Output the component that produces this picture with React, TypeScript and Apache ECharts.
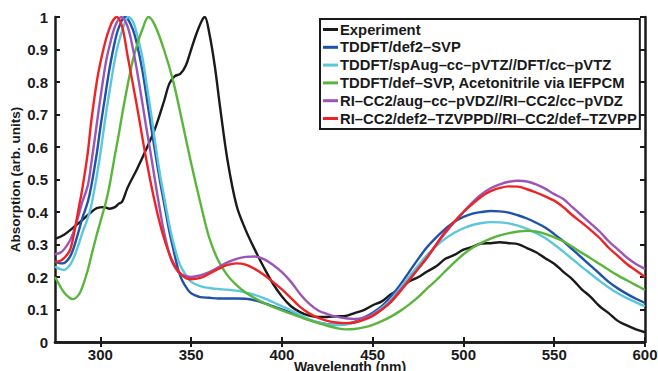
import React, { useEffect, useRef } from "react";
import * as echarts from "echarts";

const seriesNames = [
  "Experiment",
  "TDDFT/def2–SVP",
  "TDDFT/spAug–cc–pVTZ//DFT/cc–pVTZ",
  "TDDFT/def–SVP, Acetonitrile via IEFPCM",
  "RI–CC2/aug–cc–pVDZ//RI–CC2/cc–pVDZ",
  "RI–CC2/def2–TZVPPD//RI–CC2/def–TZVPP",
];
const seriesColors = ["#1a1a1a", "#1f52a8", "#5cc6dc", "#5ab53c", "#9a55b5", "#ee2424"];

const xTicks = [300, 350, 400, 450, 500, 550, 600];

const experiment: [number, number][] = [
  [275, 0.317], [280, 0.33], [285, 0.352], [290, 0.375], [295, 0.4], [298, 0.412], [302, 0.415],
  [305, 0.41], [308, 0.415], [310, 0.425], [312, 0.432], [315, 0.475], [320, 0.53], [325, 0.59],
  [330, 0.655], [335, 0.74], [338, 0.795], [341, 0.818], [344, 0.825], [347, 0.85], [350, 0.9],
  [353, 0.95], [356, 0.99], [357.5, 1.0], [360, 0.95], [363, 0.85], [366, 0.72], [370, 0.56],
  [375, 0.42], [380, 0.345], [385, 0.285], [390, 0.23], [395, 0.18], [400, 0.14], [405, 0.11],
  [410, 0.092], [415, 0.081], [420, 0.077], [425, 0.077], [430, 0.079], [435, 0.08], [440, 0.089],
  [445, 0.098], [450, 0.113], [455, 0.125], [460, 0.147], [465, 0.163], [470, 0.186], [475, 0.199],
  [480, 0.217], [485, 0.233], [490, 0.256], [495, 0.268], [500, 0.284], [505, 0.293], [510, 0.303],
  [515, 0.304], [520, 0.307], [525, 0.304], [530, 0.301], [535, 0.289], [540, 0.276], [545, 0.258],
  [550, 0.241], [555, 0.216], [560, 0.193], [565, 0.163], [570, 0.139], [575, 0.11], [580, 0.089],
  [585, 0.065], [590, 0.051], [595, 0.039], [600, 0.03],
];

const def2SVP: [number, number][] = [
  [275, 0.25], [278, 0.242], [280, 0.243], [283, 0.26], [285, 0.285], [288, 0.34], [290, 0.38],
  [293, 0.43], [295, 0.48], [298, 0.58], [300, 0.66], [303, 0.77], [305, 0.84], [308, 0.925],
  [310, 0.965], [313.5, 1.0], [315, 0.995], [318, 0.96], [320, 0.92], [323, 0.84], [325, 0.77],
  [328, 0.66], [330, 0.59], [333, 0.49], [335, 0.43], [338, 0.34], [340, 0.29], [343, 0.22],
  [345, 0.19], [348, 0.162], [350, 0.15], [353, 0.142], [355, 0.138], [360, 0.136], [365, 0.134],
  [370, 0.134], [375, 0.134], [380, 0.133], [385, 0.128], [390, 0.12], [395, 0.11], [400, 0.1],
  [405, 0.09], [410, 0.079], [415, 0.068], [420, 0.06], [425, 0.055], [430, 0.053], [435, 0.055],
  [440, 0.062], [445, 0.075], [450, 0.09], [455, 0.11], [460, 0.14], [465, 0.175], [470, 0.215],
  [475, 0.255], [480, 0.292], [485, 0.322], [490, 0.348], [495, 0.37], [500, 0.385], [505, 0.395],
  [510, 0.4], [515, 0.403], [520, 0.402], [525, 0.398], [530, 0.39], [535, 0.38], [540, 0.367],
  [545, 0.352], [550, 0.332], [555, 0.31], [560, 0.285], [565, 0.26], [570, 0.235], [575, 0.21],
  [580, 0.185], [585, 0.165], [590, 0.148], [595, 0.133], [600, 0.12],
];

const spAug: [number, number][] = [
  [275, 0.232], [278, 0.224], [280, 0.222], [283, 0.235], [285, 0.255], [288, 0.3], [290, 0.335],
  [293, 0.38], [295, 0.42], [298, 0.51], [300, 0.58], [303, 0.7], [305, 0.77], [308, 0.87],
  [310, 0.92], [313, 0.975], [315.3, 1.0], [318, 0.985], [320, 0.95], [323, 0.88], [325, 0.81],
  [328, 0.7], [330, 0.62], [333, 0.51], [335, 0.45], [338, 0.36], [340, 0.31], [343, 0.25],
  [345, 0.225], [348, 0.198], [350, 0.185], [355, 0.172], [360, 0.166], [365, 0.163], [370, 0.161],
  [375, 0.158], [380, 0.152], [385, 0.145], [390, 0.135], [395, 0.123], [400, 0.11], [405, 0.097],
  [410, 0.083], [415, 0.07], [420, 0.06], [425, 0.054], [430, 0.052], [435, 0.054], [440, 0.06],
  [445, 0.07], [450, 0.085], [455, 0.105], [460, 0.13], [465, 0.165], [470, 0.2], [475, 0.235],
  [480, 0.268], [485, 0.295], [490, 0.318], [495, 0.336], [500, 0.35], [505, 0.36], [510, 0.366],
  [515, 0.369], [520, 0.368], [525, 0.365], [530, 0.358], [535, 0.348], [540, 0.335], [545, 0.32],
  [550, 0.3], [555, 0.278], [560, 0.255], [565, 0.232], [570, 0.21], [575, 0.188], [580, 0.168],
  [585, 0.15], [590, 0.135], [595, 0.122], [600, 0.11],
];

const iefpcm: [number, number][] = [
  [275, 0.2], [278, 0.17], [280, 0.152], [283, 0.136], [285, 0.132], [288, 0.145], [290, 0.168],
  [293, 0.22], [295, 0.265], [298, 0.33], [300, 0.37], [303, 0.43], [305, 0.48], [308, 0.575],
  [310, 0.635], [312, 0.7], [315, 0.79], [318, 0.87], [320, 0.91], [323, 0.96], [326.5, 1.0],
  [330, 0.975], [335, 0.9], [340, 0.805], [345, 0.68], [350, 0.55], [355, 0.43], [360, 0.32],
  [365, 0.25], [370, 0.205], [375, 0.175], [380, 0.152], [385, 0.135], [390, 0.12], [395, 0.108],
  [400, 0.097], [405, 0.087], [410, 0.077], [415, 0.067], [420, 0.058], [425, 0.05], [430, 0.043],
  [435, 0.039], [440, 0.04], [445, 0.045], [450, 0.053], [455, 0.064], [460, 0.078], [465, 0.095],
  [470, 0.115], [475, 0.138], [480, 0.165], [485, 0.19], [490, 0.218], [495, 0.245], [500, 0.27],
  [505, 0.29], [510, 0.305], [515, 0.318], [520, 0.328], [525, 0.335], [530, 0.34], [535, 0.342],
  [540, 0.34], [545, 0.333], [550, 0.322], [555, 0.31], [560, 0.293], [565, 0.275], [570, 0.258],
  [575, 0.24], [580, 0.222], [585, 0.205], [590, 0.19], [595, 0.175], [600, 0.16],
];

const augVDZ: [number, number][] = [
  [275, 0.27], [278, 0.275], [280, 0.285], [283, 0.31], [285, 0.335], [288, 0.39], [290, 0.43],
  [293, 0.48], [295, 0.55], [298, 0.67], [300, 0.75], [303, 0.86], [305, 0.91], [308, 0.97],
  [311.5, 1.0], [315, 0.97], [318, 0.9], [320, 0.84], [323, 0.74], [325, 0.67], [328, 0.57],
  [330, 0.5], [333, 0.4], [335, 0.34], [338, 0.27], [340, 0.24], [343, 0.215], [345, 0.207],
  [350, 0.2], [355, 0.205], [360, 0.215], [365, 0.23], [370, 0.245], [375, 0.256], [380, 0.262],
  [385, 0.263], [390, 0.255], [395, 0.238], [400, 0.215], [405, 0.185], [410, 0.148], [415, 0.118],
  [420, 0.097], [425, 0.086], [430, 0.078], [435, 0.073], [440, 0.071], [445, 0.075], [450, 0.085],
  [455, 0.1], [460, 0.125], [465, 0.158], [470, 0.19], [475, 0.225], [480, 0.26], [485, 0.3],
  [490, 0.335], [495, 0.37], [500, 0.4], [505, 0.43], [510, 0.455], [515, 0.473], [520, 0.485],
  [525, 0.493], [530, 0.496], [535, 0.494], [540, 0.485], [545, 0.472], [550, 0.455], [555, 0.44],
  [560, 0.415], [565, 0.39], [570, 0.365], [575, 0.34], [580, 0.31], [585, 0.285], [590, 0.26],
  [595, 0.24], [600, 0.225],
];

const tzvppd: [number, number][] = [
  [275, 0.245], [278, 0.25], [280, 0.258], [283, 0.28], [285, 0.32], [288, 0.41], [290, 0.47],
  [293, 0.58], [295, 0.68], [298, 0.8], [300, 0.86], [303, 0.93], [305, 0.965], [307, 0.99],
  [309, 1.0], [312, 0.97], [315, 0.88], [320, 0.73], [325, 0.57], [330, 0.43], [335, 0.32],
  [340, 0.245], [345, 0.205], [350, 0.193], [355, 0.197], [360, 0.21], [365, 0.225], [370, 0.237],
  [375, 0.242], [380, 0.238], [385, 0.225], [390, 0.207], [395, 0.185], [400, 0.162], [405, 0.135],
  [410, 0.108], [415, 0.088], [420, 0.074], [425, 0.065], [430, 0.06], [435, 0.058], [440, 0.06],
  [445, 0.068], [450, 0.08], [455, 0.1], [460, 0.123], [465, 0.155], [470, 0.19], [475, 0.225],
  [480, 0.26], [485, 0.3], [490, 0.34], [495, 0.37], [500, 0.4], [505, 0.425], [510, 0.448],
  [515, 0.464], [520, 0.474], [525, 0.479], [530, 0.478], [535, 0.47], [540, 0.46], [545, 0.448],
  [550, 0.435], [555, 0.415], [560, 0.39], [565, 0.368], [570, 0.345], [575, 0.32], [580, 0.29],
  [585, 0.265], [590, 0.24], [595, 0.22], [600, 0.2],
];

const allData = [experiment, def2SVP, spAug, iefpcm, augVDZ, tzvppd];

const FONT = "'Liberation Sans', Arial, Helvetica, sans-serif";

export default function App() {
  const ref = useRef<HTMLDivElement>(null);
  useEffect(() => {
    if (!ref.current) return;
    const chart = echarts.init(ref.current, null, { renderer: "svg" });
    const axisLine = { show: true, lineStyle: { color: "#1a1a1a", width: 2.5 } };
    const tickStyle = { show: true, inside: true, length: 5, lineStyle: { color: "#1a1a1a", width: 2 } };
    chart.setOption({
      animation: false,
      backgroundColor: "#ffffff",
      grid: { left: 55, right: 13, top: 17, bottom: 29, containLabel: false, outerBoundsMode: "none" },
      legend: {
        data: seriesNames,
        orient: "vertical",
        left: 320,
        top: 19,
        icon: "rect",
        itemWidth: 15,
        itemHeight: 3,
        itemGap: 2.8,
        padding: [3, 3, 3, 3],
        borderColor: "#1a1a1a",
        borderWidth: 2,
        backgroundColor: "#ffffff",
        textStyle: { fontFamily: FONT, fontWeight: "bold", fontSize: 14.8, color: "#1a1a1a", padding: [0, 0, 0, -3] },
      },
      xAxis: [
        {
          type: "value",
          min: 275,
          max: 600,
          name: "Wavelength (nm)",
          nameLocation: "middle",
          nameGap: 18,
          nameMoveOverlap: false,
          nameTextStyle: { fontFamily: FONT, fontWeight: "bold", fontSize: 14, color: "#1a1a1a" },
          axisLine,
          axisTick: { ...tickStyle, customValues: xTicks },
          axisLabel: { customValues: xTicks, margin: 5, fontFamily: FONT, fontWeight: "bold", fontSize: 15, color: "#1a1a1a" },
          splitLine: { show: false },
        },
        {
          type: "value",
          position: "top",
          min: 275,
          max: 600,
          axisLine,
          axisTick: { ...tickStyle, customValues: xTicks },
          axisLabel: { show: false },
          splitLine: { show: false },
        },
      ],
      yAxis: [
        {
          type: "value",
          min: 0,
          max: 1,
          interval: 0.1,
          name: "Absorption (arb. units)",
          nameLocation: "middle",
          nameGap: 33,
          nameMoveOverlap: false,
          nameTextStyle: { fontFamily: FONT, fontWeight: "bold", fontSize: 13.5, color: "#1a1a1a" },
          axisLine,
          axisTick: tickStyle,
          axisLabel: { margin: 7, fontFamily: FONT, fontWeight: "bold", fontSize: 15, color: "#1a1a1a" },
          splitLine: { show: false },
        },
        {
          type: "value",
          position: "right",
          min: 0,
          max: 1,
          interval: 0.1,
          axisLine,
          axisTick: tickStyle,
          axisLabel: { show: false },
          splitLine: { show: false },
        },
      ],
      series: allData.map((d, i) => ({
        name: seriesNames[i],
        type: "line",
        data: d,
        smooth: 0.35,
        symbol: "none",
        clip: true,
        lineStyle: { color: seriesColors[i], width: 2.4 },
        itemStyle: { color: seriesColors[i] },
      })),
    });
    return () => chart.dispose();
  }, []);
  return <div ref={ref} style={{ position: "fixed", left: 0, top: 0, width: 658, height: 371 }} />;
}
